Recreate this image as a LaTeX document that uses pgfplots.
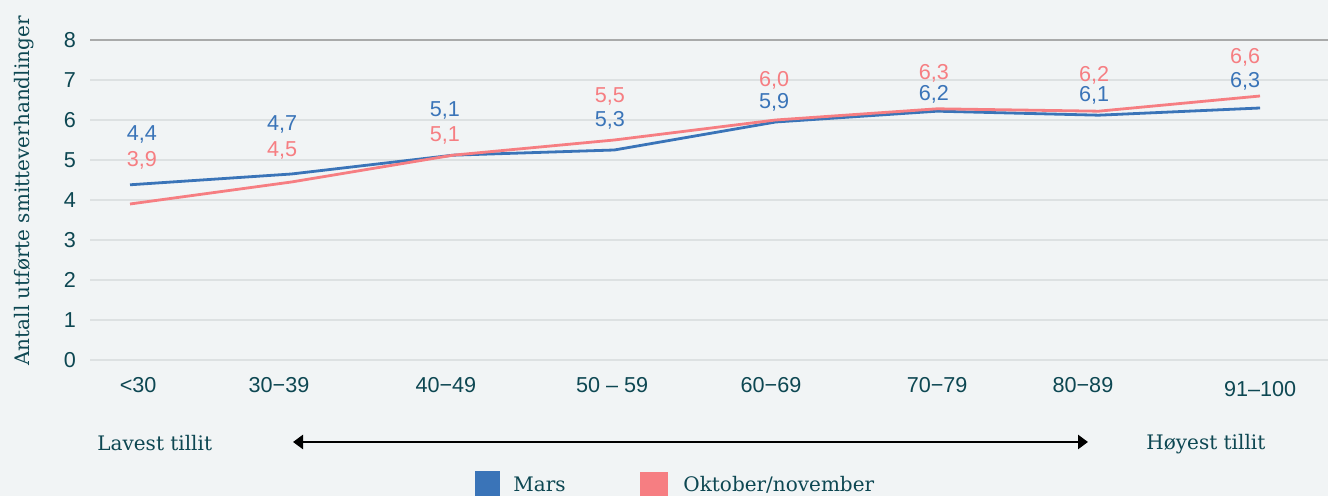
\documentclass[border=0pt]{standalone}
\usepackage{pgfplots}
\pgfplotsset{compat=1.18}
\usepackage{pgfplotstable}
\usepackage{fontspec}
\setmainfont{DejaVu Serif}
\newfontfamily\numfont{Liberation Sans}
\usetikzlibrary{arrows.meta}
\definecolor{bg}{HTML}{F1F4F5}
\definecolor{txt}{HTML}{0D4752}
\definecolor{mblue}{HTML}{3A74B8}
\definecolor{mred}{HTML}{F67E82}
\definecolor{gridc}{HTML}{DDE1E2}
\definecolor{topline}{HTML}{A9AAAA}

\pgfplotstableread{
x y
0 4.38
1 4.65
2 5.12
3 5.25
4 5.95
5 6.22
6 6.12
7 6.30
}\mars
\pgfplotstableread{
x y
0 3.90
1 4.45
2 5.12
3 5.50
4 6.00
5 6.28
6 6.22
7 6.60
}\okt
\pgfplotstableread{
x y label
0.074 5.675 4,4
0.942 5.91 4,7
1.951 6.275 5,1
2.973 6.01 5,3
3.99 6.475 5,9
4.98 6.675 6,2
5.972 6.64 6,1
6.907 7.0 6,3
}\marslab
\pgfplotstableread{
x y label
0.074 5.025 3,9
0.942 5.26 4,5
1.951 5.64 5,1
2.973 6.625 5,5
3.99 7.025 6,0
4.98 7.19 6,3
5.972 7.15 6,2
6.907 7.59 6,6
}\oktlab

\begin{document}
\begin{tikzpicture}
\path[use as bounding box, fill=bg] (0,0) rectangle (664pt,248pt);
\begin{axis}[
  at={(45pt,68pt)}, anchor=south west,
  width=619pt, height=160pt, scale only axis,
  xmin=-0.2478, xmax=7.421, ymin=0, ymax=8,
  axis line style={draw=none},
  major tick length=0pt,
  ytick={0,1,...,7},
  extra y ticks={8},
  extra y tick style={grid=major, major grid style={topline, line width=1pt}},
  ymajorgrids,
  major grid style={gridc, line width=0.7pt},
  xtick={0.05,0.923,1.957,2.986,3.971,5,5.903,7},
  xticklabels={<30,30−39,40−49,50 – 59,60−69,70−79,80−89,\raisebox{-2pt}{91–100}},
  xticklabel style={anchor=base, yshift=-16.5pt, font=\numfont\fontsize{10.8}{12}\selectfont, text=txt},
  yticklabel style={anchor=east, xshift=-3.5pt, font=\numfont\fontsize{10.8}{12}\selectfont, text=txt},
  /pgf/number format/assume math mode=true,
  clip=false,
]
\addplot[mblue, line width=1.4pt] table[x=x,y=y] {\mars};
\addplot[mred, line width=1.4pt] table[x=x,y=y] {\okt};
\addplot[only marks, mark=none, nodes near coords, point meta=explicit symbolic,
  every node near coord/.append style={anchor=center, yshift=-0.5pt, text=mblue, font=\numfont\fontsize{10.8}{12}\selectfont}]
  table[x=x,y=y,meta=label] {\marslab};
\addplot[only marks, mark=none, nodes near coords, point meta=explicit symbolic,
  every node near coord/.append style={anchor=center, yshift=-0.5pt, text=mred, font=\numfont\fontsize{10.8}{12}\selectfont}]
  table[x=x,y=y,meta=label] {\oktlab};
\end{axis}
% y label
\node[rotate=90, anchor=base, inner sep=0pt, text=txt, font=\fontsize{10}{12}\selectfont] at (14.5pt,152.5pt) {Antall utførte smitteverhandlinger};
% trust arrow
\node[anchor=base west, inner sep=0pt, text=txt, font=\fontsize{10}{12}\selectfont] at (48.5pt,22.5pt) {Lavest tillit};
\node[anchor=base west, inner sep=0pt, text=txt, font=\fontsize{10}{12}\selectfont] at (573pt,23pt) {Høyest tillit};
\draw[black, line width=1.3pt, {Triangle[length=5pt,width=7pt]}-{Triangle[length=5pt,width=7pt]}] (146.5pt,27pt) -- (544pt,27pt);
% legend
\fill[mblue] (237.5pt,-3pt) rectangle (250pt,12.5pt);
\node[anchor=base west, inner sep=0pt, text=txt, font=\fontsize{10}{12}\selectfont] at (256.5pt,2pt) {Mars};
\fill[mred] (320pt,-3pt) rectangle (334pt,12pt);
\node[anchor=base west, inner sep=0pt, text=txt, font=\fontsize{10}{12}\selectfont] at (341.5pt,2pt) {Oktober/november};
\end{tikzpicture}
\end{document}
